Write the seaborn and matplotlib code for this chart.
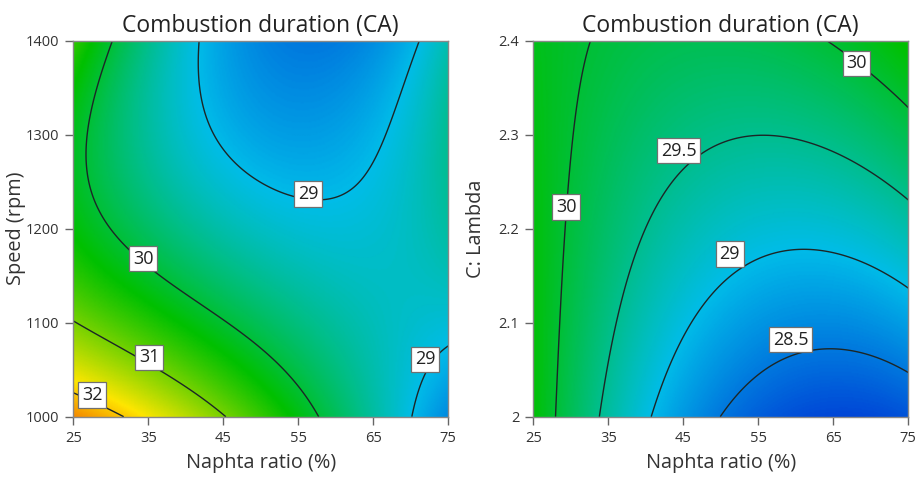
import numpy as np
import matplotlib
matplotlib.use("Agg")
import matplotlib.pyplot as plt
import seaborn as sns
from matplotlib.colors import LinearSegmentedColormap, Normalize

# ---------------- data ----------------
naphtha = [25, 35, 45, 55, 65, 75]            # Naphta ratio (%)
speed = [1000, 1100, 1200, 1300, 1400]        # Speed (rpm)
lam = [2.0, 2.1, 2.2, 2.3, 2.4]               # C: Lambda

# combustion duration (CA), rows = speed, cols = naphtha
cd_speed = [
    [32.5, 31.7, 31.0, 30.2, 29.5, 28.6],
    [31.0, 30.5, 30.0, 29.6, 29.4, 28.95],
    [30.2, 29.8, 29.35, 29.1, 29.25, 29.45],
    [30.2, 29.6, 28.85, 28.6, 28.9, 29.5],
    [30.45, 29.75, 28.75, 28.45, 28.75, 29.3],
]
# combustion duration (CA), rows = lambda, cols = naphtha
cd_lambda = [
    [30.3, 29.4, 28.7, 28.3, 28.15, 28.25],
    [30.25, 29.6, 29.05, 28.75, 28.65, 28.75],
    [30.2, 29.75, 29.35, 29.1, 29.1, 29.35],
    [30.2, 29.85, 29.6, 29.5, 29.55, 29.9],
    [30.2, 29.95, 29.8, 29.85, 30.1, 30.3],
]
levels_speed = [29, 30, 31, 32]
levels_lambda = [28.5, 29, 29.5, 30]
xticks = [25, 35, 45, 55, 65, 75]
yticks_speed = [1000, 1100, 1200, 1300, 1400]
yticks_lambda = [2.0, 2.1, 2.2, 2.3, 2.4]
ytick_lambda_labels = ["2", "2.1", "2.2", "2.3", "2.4"]
title = "Combustion duration (CA)"

# contour label texts and where they sit (layout)
labels_speed = ["29", "30", "31", "32", "29"]
labels_speed_at = [(56.3, 1237), (34.3, 1168), (35.1, 1063), (27.5, 1023),
                   (71.9, 1061)]
labels_lambda = ["30", "29.5", "29", "28.5", "30"]
labels_lambda_at = [(29.4, 2.223), (44.4, 2.283), (51.2, 2.173),
                    (59.3, 2.082), (68.1, 2.376)]

# ---------------- style ----------------
sns.set_style("ticks")
plt.rcParams["font.family"] = ["Open Sans", "DejaVu Sans"]

vmin, vmax = 27.9, 33.0
stop_vals = [27.9, 29.0, 30.3, 31.8, 33.0]
stop_cols = ["#0028d2", "#00bce8", "#00c000", "#ffe600", "#e83000"]
cmap = LinearSegmentedColormap.from_list(
    "de", [((v - vmin) / (vmax - vmin), c) for v, c in zip(stop_vals, stop_cols)])
norm = Normalize(vmin=vmin, vmax=vmax)


def smooth_surface(xs, ys, grid, n=300):
    """Cubic response surface through the read grid values."""
    xs = np.asarray(xs, float)
    ys = np.asarray(ys, float)
    z = np.asarray(grid, float)
    X, Y = np.meshgrid(xs, ys)
    cx = lambda v: (v - xs.mean()) / (np.ptp(xs) / 2)
    cy = lambda v: (v - ys.mean()) / (np.ptp(ys) / 2)

    def terms(a, b):
        return np.stack([np.ones_like(a), a, b, a * b, a**2, b**2,
                         a**2 * b, a * b**2, a**3, b**3], axis=-1)

    A = terms(cx(X).ravel(), cy(Y).ravel())
    coef, *_ = np.linalg.lstsq(A, z.ravel(), rcond=None)
    fx = np.linspace(xs.min(), xs.max(), n)
    fy = np.linspace(ys.min(), ys.max(), n)
    FX, FY = np.meshgrid(fx, fy)
    FZ = terms(cx(FX), cy(FY)) @ coef
    return FX, FY, FZ


fig = plt.figure(figsize=(9.19, 4.82), dpi=100)
W, H = 919, 482
ax1 = fig.add_axes([73.3 / W, (H - 416.7) / H, 375 / W, 376 / H])
ax2 = fig.add_axes([533.3 / W, (H - 416.7) / H, 375 / W, 376 / H])

panels = [
    (ax1, speed, cd_speed, levels_speed, "Speed (rpm)",
     labels_speed, labels_speed_at),
    (ax2, lam, cd_lambda, levels_lambda, "C: Lambda",
     labels_lambda, labels_lambda_at),
]

for ax, yv, grid, levels, ylab, labs, labs_at in panels:
    FX, FY, FZ = smooth_surface(naphtha, yv, grid)
    ax.pcolormesh(FX, FY, FZ, cmap=cmap, norm=norm, shading="gouraud",
                  rasterized=True)
    ax.contour(FX, FY, FZ, levels=levels, colors="#1c2626",
               linewidths=1.0)
    for txt, (lx, ly) in zip(labs, labs_at):
        ax.text(lx, ly, txt, ha="center", va="center", fontsize=13,
                color="#222222", zorder=5,
                bbox=dict(boxstyle="square,pad=0.2", fc="white",
                          ec="#707070", lw=0.9))
    ax.set_xlim(min(naphtha), max(naphtha))
    ax.set_ylim(min(yv), max(yv))
    ax.set_xticks(xticks)
    ax.set_xlabel("Naphta ratio (%)", fontsize=14.3, color="#333333",
                  labelpad=5)
    ax.set_ylabel(ylab, fontsize=14.3, color="#333333")
    ax.yaxis.set_label_coords(-0.125, 0.5)
    ax.set_title(title, fontsize=16.5, color="#222222", pad=6)
    ax.tick_params(direction="out", length=6, width=1, color="#666666",
                   labelsize=10.5, labelcolor="#333333", pad=4)
    for s in ax.spines.values():
        s.set_color("#888888")
        s.set_linewidth(1.0)

ax1.set_yticks(yticks_speed)
ax2.set_yticks(yticks_lambda)
ax2.set_yticklabels(ytick_lambda_labels)

fig.savefig("out.png", dpi=100)
